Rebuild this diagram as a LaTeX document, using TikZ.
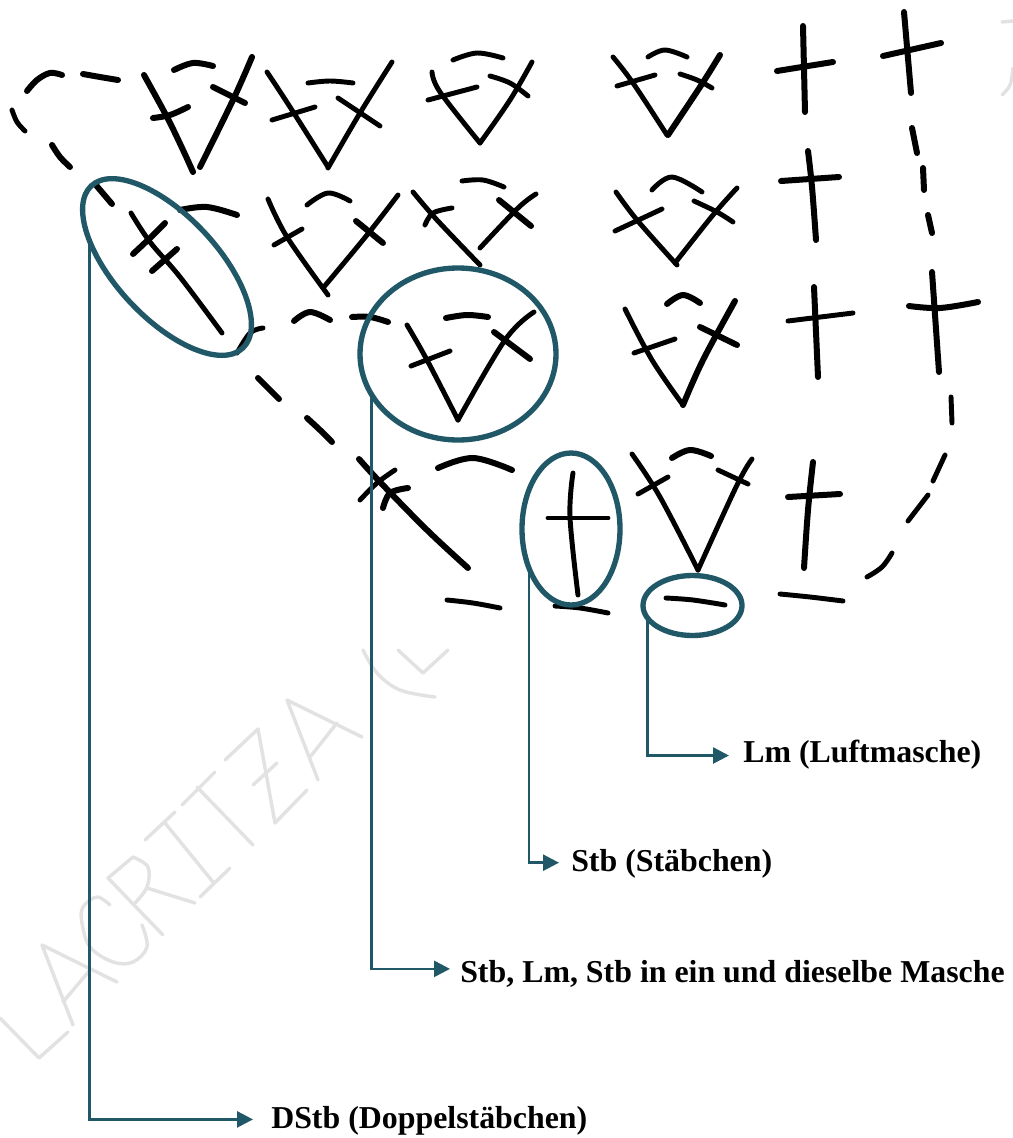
\documentclass[tikz,border=0pt]{standalone}
\usepackage{fontspec}
\setmainfont{Liberation Serif}
\usetikzlibrary{shapes.geometric,arrows.meta}
\definecolor{teal}{HTML}{215868}
\definecolor{wm}{HTML}{E2E2E2}
\tikzset{
  yarn/.style={black,line width=4.5pt,line cap=round,line join=round},
  fine/.style={black,line width=3.7pt,line cap=round,line join=round},
  wmark/.style={wm,line width=2.6pt,line cap=round,line join=round},
  loopy/.style={draw=teal,line width=4pt,ellipse,inner sep=0pt,outer sep=0pt},
  conn/.style={draw=teal,line width=2pt,-{Triangle[length=12pt,width=12pt]}},
  lab/.style={anchor=base west,inner sep=0pt,font=\fontsize{23.9pt}{28pt}\selectfont\bfseries}
}
\newcommand{\ys}[1]{\draw[yarn] plot[smooth,tension=.6] coordinates {#1};}
\newcommand{\fs}[1]{\draw[fine] plot[smooth,tension=.6] coordinates {#1};}
\begin{document}
\begin{tikzpicture}[x=0.75pt,y=-0.75pt]
\useasboundingbox (0,0) rectangle (1013,1138);
% watermark
\draw[wmark] (0,1018)--(39,1058)--(68,1032);
\draw[wmark] (73,1025)--(42,945)--(117,982);
\draw[wmark] (63,1002)--(90,970);
\draw[wmark] plot[smooth,tension=.6] coordinates {(110,905)(97,897)(83,907)(82,923)(90,947)(113,962)(133,962)(147,947)(142,925)};
\draw[wmark] (163,935)--(108,878)--(133,857);
\draw[wmark] plot[smooth,tension=.6] coordinates {(133,857)(148,867)(147,887)(135,903)};
\draw[wmark] (147,888)--(195,903);
\draw[wmark] (145,840)--(175,812);
\draw[wmark] (165,823)--(213,882);
\draw[wmark] (200,897)--(230,868);
\draw[wmark] (182,805)--(215,772);
\draw[wmark] (197,787)--(253,845);
\draw[wmark] (225,760)--(258,729)--(275,823)--(307,790);
\draw[wmark] (253,785)--(277,763);
\draw[wmark] (318,780)--(287,700)--(362,737);
\draw[wmark] (310,757)--(337,723);
\draw[wmark] plot[smooth,tension=.6] coordinates {(363,650)(377,673)(400,690)(435,697)};
\draw[wmark] (398,650)--(423,673)--(448,650);
\draw[wmark] (1002,22)--(1013,21);
\draw[wmark] plot[smooth,tension=.6] coordinates {(1013,68)(1010,85)(1002,95)};
% top-left chain
\ys{(27,91)(37,80)(50,73)(62,75)}
\ys{(83,74)(100,77)(118,80)}
\fs{(12,110)(17,122)(25,131)}
\ys{(52,145)(60,157)(70,167)}
% row 1
\ys{(144,75)(167,117)(183,150)(193,172)}
\ys{(252,57)(233,100)(200,167)}
\ys{(153,118)(170,115)(188,107)}
\ys{(213,87)(245,103)}
\ys{(174,70)(193,63)(213,66)}
\fs{(267,72)(290,107)(328,167)}
\fs{(392,62)(360,113)(328,168)}
\fs{(272,120)(315,107)}
\fs{(338,98)(380,126)}
\fs{(308,83)(330,81)(353,83)}
\fs{(432,72)(440,92)(480,143)}
\fs{(480,143)(510,100)(532,62)}
\fs{(428,100)(477,87)}
\fs{(490,76)(510,83)(528,96)}
\fs{(453,60)(477,53)(503,58)}
\fs{(613,57)(633,83)(667,135)}
\ys{(720,55)(700,87)(668,135)}
\fs{(617,86)(655,75)}
\fs{(680,74)(697,80)(712,88)}
\fs{(648,57)(665,50)(687,57)}
\ys{(803,26)(805,112)}
\ys{(777,71)(833,62)}
\ys{(904,12)(911,93)}
\ys{(883,56)(941,43)}
\ys{(912,128)(917,153)}
\ys{(923,168)(924,190)}
\ys{(928,215)(932,233)}
% row 2
\ys{(95,184)(112,204)}
\fs{(131,213)(150,242)(180,277)(222,333)}
\ys{(133,254)(150,238)(165,223)}
\ys{(152,271)(177,249)}
\ys{(180,210)(207,207)(237,215)}
\fs{(268,199)(287,237)(328,295)}
\fs{(398,195)(367,235)(323,288)}
\fs{(274,245)(302,229)}
\ys{(356,221)(383,243)}
\fs{(307,205)(328,193)(350,201)}
\fs{(413,192)(437,220)(480,265)}
\fs{(480,248)(518,208)(536,194)}
\fs{(425,225)(433,213)(452,208)}
\ys{(499,200)(531,226)}
\fs{(462,181)(483,180)(504,187)}
\fs{(616,192)(637,220)(677,265)}
\fs{(737,188)(713,215)(675,263)}
\fs{(615,231)(662,209)}
\fs{(694,201)(717,212)(733,222)}
\fs{(652,190)(672,177)(702,192)}
\ys{(808,151)(812,187)(816,240)}
\ys{(781,181)(839,177)}
% row 3
\fs{(237,353)(250,333)(263,328)}
\ys{(294,321)(310,312)(330,320)}
\ys{(352,317)(370,317)(388,322)}
\fs{(407,325)(427,360)(458,420)}
\fs{(534,312)(505,340)(458,420)}
\fs{(411,366)(450,351)}
\ys{(494,332)(530,359)}
\ys{(446,318)(467,315)(488,317)}
\fs{(625,309)(652,360)(683,405)}
\ys{(735,301)(703,360)(683,405)}
\fs{(634,353)(675,339)}
\ys{(700,327)(737,345)}
\ys{(667,304)(683,295)(700,303)}
\ys{(814,287)(818,377)}
\fs{(788,321)(853,313)}
\ys{(932,272)(939,372)}
\ys{(909,306)(940,308)(978,302)}
\ys{(258,378)(270,390)(279,399)}
\ys{(307,418)(320,430)(332,442)}
% row 4
\ys{(359,459)(380,482)(427,530)(468,568)}
\fs{(360,500)(377,483)(395,470)}
\ys{(383,508)(390,493)(408,488)}
\ys{(438,468)(473,458)(512,470)}
\fs{(573,473)(570,517)(578,595)}
\fs{(548,518)(608,518)}
\fs{(447,600)(473,603)(500,608)}
\fs{(555,606)(580,608)(608,613)}
\fs{(632,454)(660,497)(698,570)}
\fs{(752,459)(737,485)(698,570)}
\fs{(638,494)(668,477)}
\fs{(718,470)(733,477)(748,484)}
\ys{(672,458)(690,450)(711,456)}
\fs{(666,598)(693,600)(725,605)}
\ys{(813,462)(808,510)(804,568)}
\ys{(788,497)(840,494)}
\fs{(780,594)(810,597)(843,601)}
\fs{(867,577)(882,567)(892,553)}
\fs{(908,521)(928,495)}
\fs{(933,481)(945,455)}
\fs{(951,397)(952,423)}
% loops
\node[loopy,minimum width=166.5pt,minimum height=76.5pt,rotate=-47] (e1) at (167,267) {};
\node[loopy,minimum width=147pt,minimum height=129pt] (e2) at (458,354) {};
\node[loopy,minimum width=73.5pt,minimum height=114pt] (e3) at (571,529) {};
\node[loopy,minimum width=74.25pt,minimum height=45pt] (e4) at (692.5,605.5) {};
% labels
\node[lab] (l1) at (271,1128) {DStb (Doppelstäbchen)};
\node[lab] (l2) at (460,982) {Stb, Lm, Stb in ein und dieselbe Masche};
\node[lab] (l3) at (571,871) {Stb (Stäbchen)};
\node[lab] (l4) at (743,762) {Lm (Luftmasche)};
% connectors
\draw[conn,shorten >=13.5pt] (e1.208) |- ([yshift=0.7pt]l1.west);
\draw[conn,shorten >=7.5pt] (e2.205) |- ([yshift=3.4pt]l2.west);
\draw[conn,shorten >=9pt] (e3.223) |- ([yshift=0.5pt]l3.west);
\draw[conn,shorten >=10.5pt] (e4.196.4) |- ([yshift=-1pt]l4.west);
\end{tikzpicture}
\end{document}
